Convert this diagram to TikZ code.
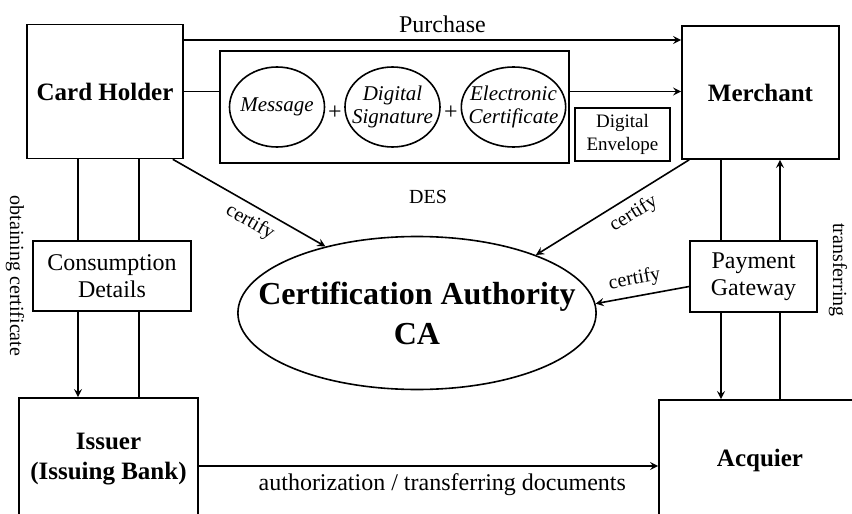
\documentclass[tikz,border=0pt]{standalone}
\usepackage{fontspec}
\setmainfont{Liberation Serif}
\usetikzlibrary{shapes.geometric}

\begin{document}
\begin{tikzpicture}[x=0.5pt,y=-0.5pt,line width=0.8pt,
    box/.style={draw,inner sep=0pt,align=center,font=\fontsize{12}{13.5}\selectfont},
    party/.style={box,font=\fontsize{12.5}{15}\selectfont\bfseries},
    part/.style={draw,ellipse,inner xsep=-4pt,inner ysep=0pt,align=center,font=\fontsize{10.5}{11.5}\selectfont\itshape},
    txt/.style={font=\fontsize{12}{14}\selectfont},
    lbl/.style={font=\fontsize{10}{12}\selectfont}]
        \clip (0,0) rectangle (852,514);

        \node[party,minimum width=78pt,minimum height=67pt] (card) at (105,91.5) {Card Holder};
        \node[party,minimum width=78.5pt,minimum height=66.5pt] (merch) at (760.5,92.5) {Merchant};
        \node[party,minimum width=89.5pt,minimum height=61pt] (iss) at (108.5,459) {Issuer\\(Issuing Bank)};
        \node[party,minimum width=101pt,minimum height=60pt] (acq) at (760,460) {Acquier};

        \node[box,minimum width=174.5pt,minimum height=56pt] (big) at (394.5,107) {};
        \node[part,minimum width=47.5pt,minimum height=40pt] (msg) at (277,107) {Message};
        \node[part,minimum width=47.5pt,minimum height=40pt] (sig) at (392.5,107) {Digital\\Signature};
        \node[part,minimum width=51.5pt,minimum height=40pt] (cert) at (513.5,107) {Electronic\\Certificate};
        \node[txt] (plusA) at (335,113) {+};
        \node[txt] (plusB) at (451,113) {+};
        \node[box,minimum width=47.5pt,minimum height=26.5pt,font=\fontsize{9.5}{11.5}\selectfont] (env) at (622.5,134.5) {Digital\\Envelope};

        \node[box,minimum width=79pt,minimum height=35pt] (cons) at (112,276) {Consumption\\Details};
        \node[box,minimum width=63.5pt,minimum height=35.5pt] (pg) at (753.5,276.5) {Payment\\Gateway};

        \node[draw,ellipse,inner xsep=-16pt,inner ysep=0pt,align=center,minimum width=177.5pt,minimum height=76.5pt,
            font=\fontsize{16}{20}\selectfont\bfseries] (ca) at (417,313) {Certification Authority\\CA};

        \node[lbl] (des) at (428,197) {DES};
        \node[lbl,rotate=-90] (obt) at (15,276) {obtaining certificate};
        \node[lbl,rotate=-90] (trf) at (838,270) {transferring};

        \draw[-stealth] (card.east |- 0,40) -- (merch.west |- 0,40) node[txt,pos=0.52,above] {Purchase};
        \draw (card.east) -- (card.east -| big.west);
        \draw[-stealth] (big.east |- card.east) -- (merch.west |- card.east);

        \draw (card.south -| 78,0) -- (cons.north -| 78,0);
        \draw[-stealth] (cons.south -| 78,0) -- (iss.north -| 78,0);
        \draw (card.south -| 139,0) -- (cons.north -| 139,0);
        \draw (cons.south -| 139,0) -- (iss.north -| 139,0);

        \draw (merch.south -| 721,0) -- (pg.north -| 721,0);
        \draw[-stealth] (pg.south -| 721,0) -- (acq.north -| 721,0);
        \draw (acq.north -| 780,0) -- (pg.south -| 780,0);
        \draw[-stealth] (pg.north -| 780,0) -- (merch.south -| 780,0);

        \draw[-stealth] ([xshift=-5.5pt]card.south east) -- (ca.144) node[lbl,pos=0.56,sloped,below] {certify};
        \draw[-stealth] ([xshift=4pt]merch.south west) -- (ca.26) node[lbl,pos=0.42,sloped,below] {certify};
        \draw[-stealth] ([yshift=-5pt]pg.west) -- (ca.3) node[lbl,pos=0.55,sloped,above] {certify};

        \draw[-stealth] (iss.east |- 0,466) -- (acq.west |- 0,466) node[txt,pos=0.53,below] {authorization / transferring documents};
\end{tikzpicture}
\end{document}
